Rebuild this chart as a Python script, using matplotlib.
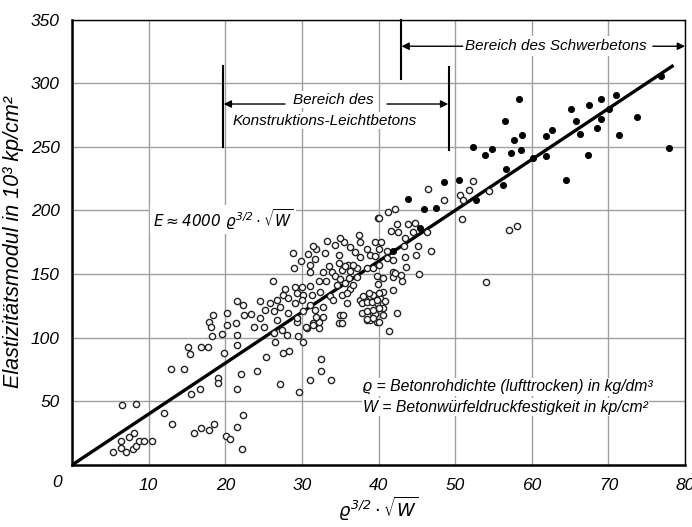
import matplotlib
matplotlib.use("Agg")
import matplotlib.pyplot as plt

# ---------------- data ----------------
open_x = [6.5, 8.4, 5.3, 6.4, 7.0, 7.9, 8.4, 6.4, 7.4, 8.1, 8.8, 9.4, 10.4, 12.0, 13.1, 12.9, 14.6, 15.1, 15.4, 15.5, 15.9,
          21.5, 22.3, 24.5, 25.9, 20.2, 20.2, 18.4, 17.9, 18.2, 18.3, 19.6, 21.4, 22.4, 23.3, 23.8, 24.5, 25.2, 25.0, 21.5,
          21.5, 19.8, 16.9, 17.8, 25.3, 26.5, 27.6, 28.3, 24.1, 22.0, 19.1, 19.1, 21.5, 27.1, 16.7, 22.3, 21.5, 20.1, 20.6,
          22.2, 18.5, 17.9, 16.9, 26.3, 27.4, 28.0, 29.5, 29.4,
          29.6, 31.0, 32.5, 32.5, 33.8, 30.2, 30.7, 32.2, 31.4, 32.2, 38.5, 39.8,
          39.9, 37.5, 37.6, 35.5, 34.3, 36.3, 39.6, 31.9, 30.8, 28.9, 33.0, 34.8, 36.9, 38.5, 38.9, 37.6, 29.9, 31.7, 29.0,
          31.1, 33.6, 34.8, 36.0, 37.2, 38.5, 31.1, 32.7, 33.9, 35.2, 36.3, 26.2, 34.3, 35.0, 37.2, 27.8, 27.6, 29.1, 30.0,
          31.1, 32.2, 33.2, 34.6, 35.6, 36.3, 26.7, 28.2, 29.3, 30.2, 31.3, 32.4, 33.7, 35.2, 27.2, 29.1, 30.0, 31.1, 32.8,
          34.1, 35.9, 26.3, 28.2, 30.2, 31.7, 31.9, 35.0, 37.6, 37.8, 38.9, 39.3, 29.3, 31.5, 32.8, 34.8, 38.9, 26.7, 30.6,
          46.4, 48.5, 50.7, 51.8, 52.3, 50.9, 41.3, 42.1, 40.0, 42.4, 43.8, 44.8, 41.6, 42.5, 44.5, 46.3, 43.5, 40.3, 45.2,
          43.3, 40.1, 41.1, 46.8, 44.9, 43.4, 39.6, 41.1, 41.9, 43.6, 40.1, 39.3, 41.9, 45.3, 41.9, 39.8, 40.6, 43.1, 39.9,
          40.6, 41.9, 39.3, 40.2, 40.9, 39.8, 40.6, 39.6, 42.4,
          51.0, 54.4, 57.0, 58.1, 54.0, 41.4,
          38.0, 38.7, 40.0, 37.8, 38.5, 39.1, 39.8, 38.5, 39.3, 40.0, 38.5, 39.3, 40.0, 40.6, 35.4, 35.2, 35.9, 36.7, 36.1,
          35.6, 36.7, 43.0, 42.2, 31.5, 33.3, 35.0]
open_y = [47.2, 47.7, 10.5, 13.1, 10.5, 12.6, 14.9, 18.9, 21.8, 24.9, 19.1, 19.1, 19.1, 40.6, 32.0, 75.5, 75.7, 93.0, 87.3, 55.6, 25.4,
          129.2, 125.6, 128.5, 127.2, 119.3, 110.0, 118.0, 112.7, 108.8, 101.5, 103.0, 111.4, 118.0, 118.5, 108.8, 115.4, 121.4, 108.8, 101.8,
          94.4, 87.8, 93.0, 93.0, 85.2, 97.0, 87.8, 89.7, 74.2, 71.3, 68.2, 64.7, 59.5, 63.5, 59.5, 39.3, 30.1, 22.8, 20.4,
          12.3, 32.0, 27.5, 28.8, 103.6, 106.0, 102.0, 101.0, 112.7,
          57.6, 66.9, 83.4, 73.9, 66.9, 97.0, 107.5, 107.5, 111.5, 112.7, 114.0, 112.7,
          194.0, 181.0, 175.0, 175.0, 172.5, 171.0, 175.0, 169.6, 166.0, 166.5, 166.5, 165.2, 167.0, 169.6, 165.0, 163.8, 160.0, 161.8, 154.7,
          157.3, 156.0, 158.6, 157.3, 154.7, 154.7, 151.3, 152.0, 152.0, 153.4, 152.6, 144.7, 148.6, 146.0, 147.6, 138.2, 133.7, 139.8, 139.8,
          140.8, 144.2, 144.2, 141.6, 142.9, 138.2, 129.8, 131.1, 135.0, 133.7, 133.7, 136.3, 132.4, 133.7, 124.5, 127.2, 129.8, 125.8, 124.5,
          129.8, 127.2, 120.9, 119.6, 120.9, 121.9, 116.6, 118.0, 129.8, 119.3, 132.4, 119.3, 115.4, 110.0, 116.6, 111.4, 114.0, 114.0, 108.8,
          216.8, 207.9, 211.8, 216.0, 223.4, 193.0, 199.0, 201.0, 193.7, 189.5, 189.5, 190.0, 184.0, 183.0, 182.8, 182.8, 178.3, 175.2, 172.3,
          171.7, 170.0, 168.3, 168.3, 165.0, 163.4, 164.4, 162.6, 161.2, 155.5, 157.3, 154.7, 152.0, 150.2, 147.6, 148.6, 147.3, 144.2, 142.1,
          136.3, 137.6, 133.7, 131.1, 129.2, 127.2, 123.2, 118.8, 119.8,
          208.0, 215.0, 184.8, 188.0, 143.7, 105.4,
          132.4, 135.0, 135.0, 127.2, 127.7, 128.4, 129.8, 120.6, 121.9, 123.2, 114.6, 115.4, 112.7, 118.0, 118.0, 111.4, 135.0, 141.6, 146.8,
          156.0, 157.3, 149.4, 150.8, 172.0, 176.0, 178.0]

filled_x = [76.9, 77.9, 73.8, 71.4, 71.0, 70.1, 69.1, 69.1, 68.5, 67.5, 67.4, 66.3, 65.8, 65.1, 64.5, 62.6, 61.9, 61.8, 60.1,
            58.6, 58.7, 57.7, 57.3, 58.4, 56.5, 56.7, 56.3, 54.8, 53.9, 52.3, 52.7, 50.5, 48.6, 43.9, 46.0, 47.5, 41.9, 45.4]
filled_y = [306.0, 248.8, 273.5, 259.3, 291.0, 280.0, 287.3, 272.0, 264.8, 283.0, 243.6, 259.8, 270.0, 280.0, 224.0, 263.5, 258.8,
            243.0, 241.0, 247.8, 259.6, 255.6, 244.9, 287.6, 270.6, 232.6, 219.7, 248.0, 243.6, 249.9, 207.9, 224.0, 222.0, 209.0,
            201.0, 201.7, 168.0, 186.0]

line_x = [0.0, 78.5]
slope = 4.0  # E ~ 4000 * x  (in 10^3 kp/cm^2)
line_y = [slope * v for v in line_x]

x_ticks = [0, 10, 20, 30, 40, 50, 60, 70, 80]
x_ticklabels = ['', '10', '20', '30', '40', '50', '60', '70', '80']
y_ticks = [50, 100, 150, 200, 250, 300, 350]

# ---------------- style ----------------
FAM = ['Liberation Sans', 'DejaVu Sans']
plt.rcParams['font.family'] = FAM
plt.rcParams['font.style'] = 'italic'
plt.rcParams['mathtext.fontset'] = 'dejavusans'
plt.rcParams['mathtext.default'] = 'it'

fig = plt.figure(figsize=(6.92, 5.27), dpi=100)
ax = fig.add_axes([72 / 692, 1 - 465 / 527, 613 / 692, (465 - 19.5) / 527])
ax.set_xlim(0, 80)
ax.set_ylim(0, 350)

ax.set_xticks(x_ticks)
ax.set_xticklabels(x_ticklabels)
ax.set_yticks(y_ticks)
ax.grid(True, color='#a0a0a0', lw=1.0)
ax.set_axisbelow(True)
ax.tick_params(length=0, labelsize=12.5, pad=9)
for lab in ax.get_xticklabels() + ax.get_yticklabels():
    lab.set_fontstyle('italic')
# origin label
ax.text(-1.9, -14, '0', ha='center', va='center', fontsize=12.5, style='italic')

for s in ['left', 'bottom']:
    ax.spines[s].set_linewidth(1.8)
for s in ['top', 'right']:
    ax.spines[s].set_linewidth(1.0)

ax.plot(line_x, line_y, color='black', lw=2.4, zorder=3, solid_capstyle='butt')
ax.scatter(open_x, open_y, s=20, facecolors='white', edgecolors='#222222', linewidths=1.0, zorder=4)
ax.scatter(filled_x, filled_y, s=20, facecolors='black', edgecolors='black', linewidths=0.6, zorder=4)

ax.set_ylabel('Elastizitätsmodul in 10³ kp/cm²', fontsize=15.5, style='italic', labelpad=5)
ax.set_xlabel(r'$\varrho^{3/2}\cdot\sqrt{W}$', fontsize=13, labelpad=2)

# formula
ax.text(19.7, 193, r'$E \approx 4000\ \varrho^{3/2}\cdot\sqrt{W}$', ha='center', va='center', fontsize=11,
        bbox=dict(facecolor='white', edgecolor='none', pad=1.5), zorder=5)

# explanation
ax.text(38.0, 61.5, 'ϱ = Betonrohdichte (lufttrocken) in kg/dm³', ha='left', va='center', fontsize=11.3,
        style='italic', bbox=dict(facecolor='white', edgecolor='none', pad=1), zorder=5)
ax.text(38.0, 45.5, 'W = Betonwürfeldruckfestigkeit in kp/cm²', ha='left', va='center', fontsize=11.3,
        style='italic', bbox=dict(facecolor='white', edgecolor='none', pad=1), zorder=5)

arrow = dict(arrowstyle='-|>', color='black', lw=1.0, mutation_scale=11, shrinkA=0, shrinkB=0)

# Schwerbeton range
ax.plot([42.9, 42.9], [303.6, 350], color='black', lw=1.5, zorder=5, clip_on=False)
ax.text(63.1, 329, 'Bereich des Schwerbetons', ha='center', va='center', fontsize=11, style='italic',
        bbox=dict(facecolor='white', edgecolor='none', pad=2), zorder=6)
ax.annotate('', xy=(43.0, 329), xytext=(51.0, 329), arrowprops=arrow, zorder=6, annotation_clip=False)
ax.annotate('', xy=(80.0, 329), xytext=(75.8, 329), arrowprops=arrow, zorder=6, annotation_clip=False)

# Leichtbeton range
ax.plot([19.7, 19.7], [250, 313.7], color='black', lw=1.5, zorder=5)
ax.plot([49.2, 49.2], [247.6, 313.0], color='black', lw=1.5, zorder=5)
ax.annotate('', xy=(19.8, 283.6), xytext=(27.8, 283.6), arrowprops=arrow, zorder=6)
ax.annotate('', xy=(49.1, 283.6), xytext=(41.1, 283.6), arrowprops=arrow, zorder=6)
ax.text(34.1, 287, 'Bereich des', ha='center', va='center', fontsize=11, style='italic',
        bbox=dict(facecolor='white', edgecolor='none', pad=1), zorder=5)
ax.text(33.0, 270.5, 'Konstruktions-Leichtbetons', ha='center', va='center', fontsize=11, style='italic',
        bbox=dict(facecolor='white', edgecolor='none', pad=1), zorder=5)

fig.savefig('out.png', dpi=100, facecolor='white')
